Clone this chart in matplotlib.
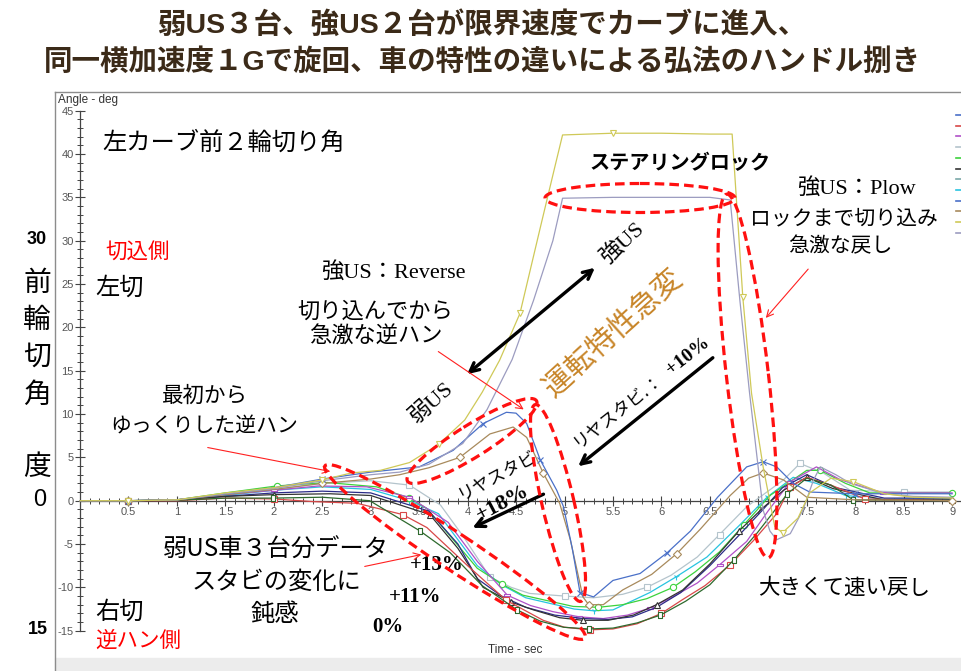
#!/usr/bin/env python3
# 前2輪切り角: 弱US 3台 / 強US 2台 の比較 (CarSim風チャート)

import matplotlib
matplotlib.use("Agg")
import matplotlib.pyplot as plt
from matplotlib.patches import Ellipse, Rectangle
from matplotlib.ticker import FixedLocator, FuncFormatter

MY_DPI = 100
W = 962
H = 671

# pixel geometry of the chart frame (from the reference)
FRAME_L = 55
FRAME_T = 92
FRAME_B = 658
PX_T0 = 80          # pixel of t = 0
PX_PER_SEC = 96.9
PX_A0 = 500.7       # pixel of angle = 0
PX_PER_DEG = 8.667

plt.rcParams['font.family'] = ['Liberation Sans', 'Noto Sans CJK JP', 'DejaVu Sans']
JP = ['Noto Sans CJK JP', 'DejaVu Sans']
SERIF = ['Liberation Serif', 'Noto Sans CJK JP']

# ---- data: time [s] / front wheel angle [deg] ----
# 強US (steering lock)
t_yellow = [0, 0.5, 1.0, 1.5, 2.0, 2.5, 2.8, 3.1, 3.4, 3.7, 3.97, 4.15, 4.33, 4.54, 4.75, 4.9, 4.98,
            5.5, 6.0, 6.5, 6.73, 6.84, 6.93, 7.05, 7.17, 7.25, 7.41, 7.53, 7.75, 7.98, 8.3, 8.6, 9.0]
a_yellow = [0, 0, 0.1, 0.9, 1.5, 2.4, 3.2, 3.5, 4.4, 6.5, 9.3, 12.5, 16.2, 21.6, 31.5, 38.5, 42.2,
            42.4, 42.4, 42.3, 42.3, 23.5, 12.4, 3.9, -3.0, -3.7, -2.0, 0.9, 2.6, 2.2, 0.8, 0.4, 0.3]
t_lav = [0, 0.5, 1.0, 1.5, 2.0, 2.5, 3.0, 3.3, 3.6, 3.95, 4.2, 4.46, 4.68, 4.88, 4.98, 5.5, 6.0, 6.5,
         6.71, 6.81, 6.91, 6.99, 7.05, 7.12, 7.19, 7.33, 7.46, 7.57, 7.64, 7.8, 7.95, 8.3, 8.6, 9.0]
a_lav = [0, 0, 0.1, 0.8, 1.4, 2.3, 3.0, 3.3, 4.2, 6.6, 10.5, 16.3, 23.1, 30.0, 34.9, 35.0, 35.0, 35.0,
         34.7, 23.1, 12.4, 4.7, -1.1, -3.5, -4.5, -3.8, -1.1, 2.4, 3.9, 3.0, 2.0, 0.8, 0.5, 0.4]
# 強US (reverse)
t_blue = [0, 0.5, 1.0, 1.5, 2.0, 2.5, 3.0, 3.5, 3.85, 4.16, 4.4, 4.5, 4.61, 4.75, 4.92, 4.99, 5.08,
          5.16, 5.3, 5.5, 5.78, 6.06, 6.3, 6.58, 6.88, 7.05, 7.19, 7.36, 7.53, 8.0, 8.5, 9.0]
a_blue = [0, 0, 0.1, 0.8, 1.5, 2.5, 3.3, 3.9, 5.8, 8.9, 10.2, 10.1, 8.9, 4.7, 1.2, -0.7, -5.5,
          -10.6, -11.1, -9.2, -8.4, -6.0, -3.5, 0.4, 3.9, 4.5, 3.9, 2.0, 1.0, 0.8, 0.8, 0.8]
t_brown = [0, 0.5, 1.0, 1.5, 2.0, 2.5, 3.0, 3.3, 3.6, 3.92, 4.23, 4.47, 4.61, 4.78, 4.95, 5.06, 5.19,
           5.25, 5.4, 5.6, 5.9, 6.16, 6.4, 6.71, 6.9, 7.05, 7.26, 7.5, 8.0, 9.0]
a_brown = [0, 0, 0.1, 0.7, 1.3, 2.0, 2.5, 3.0, 3.8, 5.0, 7.7, 8.5, 7.3, 3.2, -0.3, -4.5, -11.1,
           -12.0, -12.0, -10.3, -8.5, -6.1, -3.3, 0.6, 2.6, 3.2, 2.4, 0.4, 0.1, 0.0]
t_lgrey = [0, 0.5, 1.0, 1.5, 2.0, 2.5, 3.0, 3.4, 3.72, 3.96, 4.23, 4.45, 4.64, 5.0, 5.3, 5.6, 5.85,
           6.1, 6.37, 6.6, 6.88, 7.26, 7.43, 7.67, 7.95, 8.5, 9.0]
a_lgrey = [0, 0, 0.1, 0.7, 1.3, 2.0, 2.3, 1.8, -0.5, -4.2, -8.8, -10.0, -10.7, -11.0, -11.2, -10.8, -10.0,
           -8.6, -6.5, -3.9, -0.7, 2.4, 4.3, 3.2, 1.2, 1.0, 1.0]
# 弱US (stabilizer variations)
t_green = [0, 0.5, 1.0, 1.5, 2.03, 2.55, 3.06, 3.4, 3.58, 4.1, 4.35, 4.57, 5.09, 5.35, 5.6, 5.85, 6.12,
           6.35, 6.6, 6.85, 7.12, 7.5, 7.64, 7.9, 8.15, 9.0]
a_green = [0, 0, 0.1, 0.9, 1.7, 2.1, 1.6, 0.3, -0.9, -7.8, -9.6, -10.9, -12.2, -12.3, -12.0, -11.3, -10.0,
           -8.2, -5.9, -2.8, 0.6, 3.5, 3.5, 2.0, 0.9, 0.9]
t_cyan = [0, 0.5, 1.0, 1.5, 2.0, 2.5, 3.0, 3.4, 3.7, 4.1, 4.35, 4.6, 5.1, 5.3, 5.5, 5.88, 6.15, 6.47,
          6.8, 7.09, 7.36, 7.6, 7.9, 8.3, 9.0]
a_cyan = [0, 0, 0.1, 0.6, 1.2, 1.6, 1.3, 0.0, -1.5, -7.5, -9.7, -11.2, -12.5, -12.7, -12.6, -10.6, -8.8,
          -6.5, -2.9, 0.4, 2.7, 2.0, 0.6, 0.2, 0.2]
t_purple = [0, 0.5, 1.0, 1.5, 2.0, 2.46, 2.96, 3.4, 3.8, 4.1, 4.41, 4.65, 4.88, 5.15, 5.4, 5.65, 5.88,
            6.1, 6.37, 6.6, 6.88, 7.1, 7.33, 7.6, 7.85, 8.29, 9.0]
a_purple = [0, 0, 0.1, 0.7, 1.2, 1.7, 1.6, 0.4, -2.5, -7.0, -10.9, -12.1, -12.8, -13.4, -13.6, -13.2, -12.4,
            -11.2, -9.5, -7.4, -4.7, -1.2, 2.2, 3.9, 2.4, 0.9, 0.9]
t_black = [0, 0.5, 1.0, 1.5, 2.0, 2.58, 3.0, 3.61, 3.9, 4.16, 4.45, 4.68, 4.95, 5.19, 5.45, 5.71, 5.95,
           6.22, 6.5, 6.8, 7.05, 7.26, 7.5, 7.77, 8.29, 9.0]
a_black = [0, 0, 0.05, 0.5, 0.7, 0.8, 0.6, -1.6, -5.5, -10.0, -11.7, -12.6, -13.5, -13.8, -13.8, -13.2,
           -12.0, -10.3, -7.3, -3.5, -0.8, 1.2, 2.7, 1.4, 0.1, 0.1]
t_navy = [0, 0.5, 1.0, 1.5, 2.0, 2.5, 3.0, 3.6, 3.9, 4.1, 4.35, 4.6, 4.9, 5.2, 5.45, 5.7, 5.95, 6.2,
          6.5, 6.8, 7.05, 7.25, 7.5, 7.8, 8.3, 9.0]
a_navy = [0, 0, 0.05, 0.5, 0.9, 1.1, 0.9, -1.2, -5.0, -9.0, -11.0, -12.3, -13.2, -13.6, -13.7, -13.4,
          -12.3, -10.6, -7.5, -4.0, -1.0, 1.5, 3.0, 1.5, 0.3, 0.3]
t_red = [0, 0.5, 1.0, 1.5, 2.0, 2.4, 2.86, 3.33, 3.58, 4.0, 4.4, 4.78, 5.0, 5.26, 5.5, 5.75, 6.0, 6.22,
         6.45, 6.71, 6.95, 7.19, 7.33, 7.5, 7.75, 8.1, 9.0]
a_red = [0, 0, 0, 0.3, 0.2, -0.1, -0.3, -1.6, -3.1, -7.5, -11.5, -13.8, -14.6, -14.9, -14.8, -14.2, -13.0,
         -11.4, -9.8, -7.4, -4.6, -1.5, 1.6, 2.7, 1.8, 0.2, 0.0]
t_dgreen = [0, 0.5, 1.0, 1.5, 1.99, 2.5, 2.99, 3.51, 3.82, 4.15, 4.51, 4.75, 4.99, 5.25, 5.5, 5.75, 5.99,
            6.25, 6.5, 6.75, 6.99, 7.15, 7.3, 7.5, 7.75, 7.98, 9.0]
a_dgreen = [0, 0, 0.05, 0.3, 0.3, 0.4, 0.0, -3.5, -6.0, -9.8, -12.6, -13.9, -14.6, -14.8, -14.7, -14.1,
            -13.2, -11.6, -9.7, -6.8, -3.7, -1.4, 0.8, 2.6, 1.8, 0.1, 0.0]

y_ticks = list(range(-15, 50, 5))
x_ticks = [i * 0.5 for i in range(1, 19)]

wide_rect = [(-1.6, -0.7), (1.6, -0.7), (1.6, 0.7), (-1.6, 0.7), (-1.6, -0.7)]
tall_rect = [(-0.7, -1.4), (0.7, -1.4), (0.7, 1.4), (-0.7, 1.4), (-0.7, -1.4)]

series = [
    (t_lgrey, a_lgrey, '#b4c4cc', 's', 3),
    (t_cyan, a_cyan, '#28c4e0', '1', 3),
    (t_green, a_green, '#3cd23c', 'o', 3),
    (t_purple, a_purple, '#b050c8', wide_rect, 3),
    (t_navy, a_navy, '#2c2c88', None, 3),
    (t_black, a_black, '#333333', '^', 3),
    (t_red, a_red, '#d84848', 's', 3),
    (t_dgreen, a_dgreen, '#2e6a2e', tall_rect, 3),
    (t_brown, a_brown, '#a88a5c', 'D', 4),
    (t_blue, a_blue, '#4a70c8', 'x', 4),
    (t_lav, a_lav, '#9c9cc0', None, 3),
    (t_yellow, a_yellow, '#cfc958', 'v', 4),
]

fig = plt.figure(figsize=(W / MY_DPI, H / MY_DPI), dpi=MY_DPI)

ax = fig.add_axes([FRAME_L / W, (H - FRAME_B) / H, (W - FRAME_L) / W, (FRAME_B - FRAME_T) / H])
ax.set_xlim((FRAME_L - PX_T0) / PX_PER_SEC, (W - PX_T0) / PX_PER_SEC)
ax.set_ylim((PX_A0 - FRAME_B) / PX_PER_DEG, (PX_A0 - FRAME_T) / PX_PER_DEG)
ax.patch.set_alpha(0)

for t, a, col, mk, every in series:
    ax.plot(t, a, color=col, lw=0.9, marker=mk, markevery=(1, every), markersize=4.5,
            markerfacecolor='white', markeredgecolor=col, markeredgewidth=0.8, zorder=3)

# axes crossing at the origin
ax.spines['top'].set_visible(False)
ax.spines['right'].set_visible(False)
ax.spines['left'].set_position(('data', 0))
ax.spines['bottom'].set_position(('data', 0))
ax.spines['left'].set_bounds(-15, 45)
ax.spines['bottom'].set_bounds(0, 9.1)
for s in ('left', 'bottom'):
    ax.spines[s].set_color('#444444')
    ax.spines[s].set_linewidth(0.9)
    ax.spines[s].set_zorder(2)

ax.yaxis.set_major_locator(FixedLocator(y_ticks))
ax.yaxis.set_minor_locator(FixedLocator(range(-15, 46)))
ax.xaxis.set_major_locator(FixedLocator(x_ticks))
ax.xaxis.set_minor_locator(FixedLocator([i / 10 for i in range(0, 91)]))
ax.xaxis.set_major_formatter(FuncFormatter(lambda v, p: '{:g}'.format(v)))
ax.yaxis.set_major_formatter(FuncFormatter(lambda v, p: '{:g}'.format(v)))
ax.tick_params(which='major', direction='inout', length=7, width=0.8, color='#444444',
               labelsize=8, labelcolor='#555555', pad=1)
ax.tick_params(which='minor', direction='inout', length=4.5, width=0.7, color='#444444')

# overlay in pixel coordinates for frame, notes and marks
ov = fig.add_axes([0, 0, 1, 1], zorder=5)
ov.set_xlim(0, W)
ov.set_ylim(H, 0)
ov.axis('off')

ov.add_patch(Rectangle((FRAME_L, FRAME_B), W - FRAME_L, H - FRAME_B, color='#ececec', zorder=0))
ov.plot([FRAME_L, W], [FRAME_T, FRAME_T], color='#8c8c8c', lw=1)
ov.plot([FRAME_L, FRAME_L], [FRAME_T, H], color='#8c8c8c', lw=1)
ov.text(58, 100, 'Angle - deg', fontsize=8.5, color='#333333', ha='left', va='center')
ov.text(515, 650, 'Time - sec', fontsize=8.5, color='#333333', ha='center', va='center')

# cropped legend samples on the right edge
legend_cols = ['#4a70c8', '#d84848', '#b050c8', '#b4c4cc', '#3cd23c', '#333333',
               '#7aa8a8', '#28c4e0', '#4a70c8', '#a88a5c', '#cfc958', '#9c9cc0']
for i, c in enumerate(legend_cols):
    yy = 115 + i * 10.7
    ov.plot([956, 962], [yy, yy], color=c, lw=1.2)

# title
for yy, s in ((25, '弱US３台、強US２台が限界速度でカーブに進入、'),
              (62, '同一横加速度１Gで旋回、車の特性の違いによる弘法のハンドル捌き')):
    ov.text(482, yy, s, fontsize=20.5, fontweight='bold', color='#3b2a18', ha='center', va='center')

# left-side axis notes
ov.text(37, 240, '30', fontsize=13, fontweight='bold', ha='center', va='center')
for yy, s in ((283, '前'), (320, '輪'), (357, '切'), (395, '角'), (467, '度')):
    ov.text(37, yy, s, fontsize=20, family=JP, ha='center', va='center')
ov.text(40, 500, '0', fontsize=17, ha='center', va='center')
ov.text(38, 630, '15', fontsize=13, fontweight='bold', ha='center', va='center')


def note(x, y, s, size=16, fam=JP, **kw):
    kw.setdefault('ha', 'center')
    kw.setdefault('va', 'center')
    ov.text(x, y, s, fontsize=size, family=fam, **kw)


note(102, 143, '左カーブ前２輪切り角', 17.5, ha='left')
note(105, 253, '切込側', 15.5, ha='left', color='red')
note(95, 288, '左切', 17.5, ha='left')
note(95, 612, '右切', 17.5, ha='left')
note(95, 641, '逆ハン側', 15.5, ha='left', color='red')

note(393, 272, '強US：Reverse', 16, fam=SERIF)
note(375, 311, '切り込んでから', 16)
note(376, 336, '急激な逆ハン', 16)
note(205, 396, '最初から', 15.5)
note(204, 426, 'ゆっくりした逆ハン', 15)

note(276, 550, '弱US車３台分データ', 17.5)
note(276, 582, 'スタビの変化に', 17.5)
note(275, 614, '鈍感', 17.5)
note(437, 565, '+13%', 15, fam=SERIF, fontweight='bold')
note(415, 597, '+11%', 15, fam=SERIF, fontweight='bold')
note(388, 627, '0%', 15, fam=SERIF, fontweight='bold')

note(680, 163, 'ステアリングロック', 14.5, fontweight='bold')
note(856, 188, '強US：Plow', 16, fam=SERIF)
note(844, 218, 'ロックまで切り込み', 15)
note(840, 246, '急激な戻し', 15)
note(844, 588, '大きくて速い戻し', 15.5)

note(622, 243, '強US', 16, fam=SERIF, rotation=43)
note(432, 403, '弱US', 16, fam=SERIF, rotation=42)
note(614, 334, '運転特性急変', 21, color='#c8862a', rotation=42)
note(617, 411, 'リヤスタビ.：', 12.5, rotation=38)
note(688, 356, '+10%', 14, fam=SERIF, fontweight='bold', rotation=38)
note(497, 475, 'リヤスタビ', 12.5, rotation=28)
note(503, 503, '+18%', 16, fam=SERIF, fontweight='bold', rotation=28)

# red dashed rings
red_dash = dict(fill=False, edgecolor='#ff1010', lw=2.3, linestyle=(0, (3, 1.6)), zorder=6)
ov.add_patch(Ellipse((640, 198), 190, 29, angle=0, **red_dash))
ov.add_patch(Ellipse((747.5, 376), 366, 42, angle=83.5, **red_dash))
ov.add_patch(Ellipse((472, 441), 152, 32, angle=-32, **red_dash))
ov.add_patch(Ellipse((558, 503), 202, 32, angle=77, **red_dash))
ov.add_patch(Ellipse((455, 552), 312, 36, angle=33.5, **red_dash))

# black arrows
ov.annotate('', xy=(597, 266), xytext=(465, 376),
            arrowprops=dict(arrowstyle='<->', lw=2.4, color='black', mutation_scale=16))
ov.annotate('', xy=(576, 468), xytext=(715, 356),
            arrowprops=dict(arrowstyle='->', lw=2.4, color='black', mutation_scale=16))
ov.annotate('', xy=(470, 529), xytext=(546, 493),
            arrowprops=dict(arrowstyle='->', lw=2.4, color='black', mutation_scale=16))

# red pointer arrows
for start, end in (((436, 350), (526, 411)), ((205, 447), (333, 472)),
                   ((362, 567), (424, 554)), ((810, 267), (764, 320))):
    ov.annotate('', xy=end, xytext=start,
                arrowprops=dict(arrowstyle='->', lw=0.8, color='#ff2020', mutation_scale=12))

plt.savefig('out.png', dpi=MY_DPI)
